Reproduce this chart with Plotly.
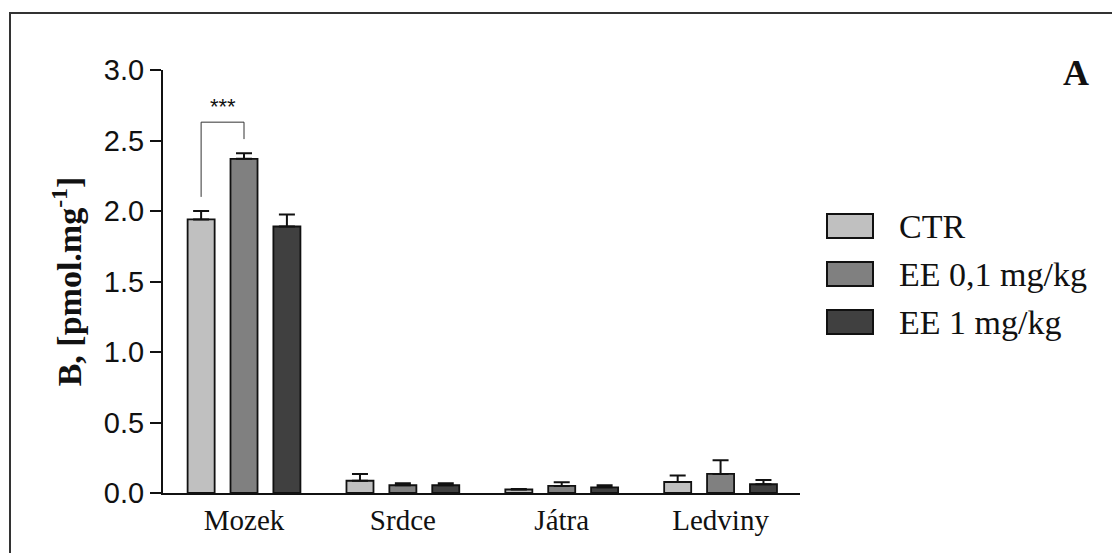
import plotly.graph_objects as go

# ---- data ----
categories = ["Mozek", "Srdce", "Játra", "Ledviny"]
series_names = ["CTR", "EE 0,1 mg/kg", "EE 1 mg/kg"]
ctr_vals = [1.94, 0.087, 0.025, 0.078]
ctr_err = [0.06, 0.048, 0.004, 0.047]
ee01_vals = [2.37, 0.055, 0.05, 0.135]
ee01_err = [0.04, 0.015, 0.026, 0.097]
ee1_vals = [1.89, 0.055, 0.04, 0.062]
ee1_err = [0.085, 0.015, 0.015, 0.03]
colors = ["#c0c0c0", "#808080", "#404040"]
y_ticks = [0.0, 0.5, 1.0, 1.5, 2.0, 2.5, 3.0]
sig_label = "***"

values = [ctr_vals, ee01_vals, ee1_vals]
errors = [ctr_err, ee01_err, ee1_err]

# ---- layout geometry (pixels) ----
W, H = 1112, 553
L, R, T, B = 163, 312, 70, 60
PW, PH = W - L - R, H - T - B

def px_x(px):
    return (px - L) / PW

def px_y(py):
    return (H - B - py) / PH

fig = go.Figure()
for name, vals, errs, col in zip(series_names, values, errors, colors):
    fig.add_trace(go.Bar(
        x=categories, y=vals, name=name,
        marker=dict(color=col, line=dict(color="#111111", width=1.8)),
        error_y=dict(type="data", array=errs, arrayminus=[0] * len(errs),
                     symmetric=False, color="#111111", thickness=2, width=8),
        showlegend=False,
    ))

BARGAP = 0.19
fig.update_layout(
    width=W, height=H,
    margin=dict(l=L, r=R, t=T, b=B, pad=0),
    paper_bgcolor="white", plot_bgcolor="white",
    barmode="group", bargap=BARGAP, bargroupgap=0.37,
    font=dict(family="Liberation Sans, Arial", color="#111111"),
)
fig.update_xaxes(
    range=[-0.51, 3.5], showline=True, linecolor="#111111", linewidth=2,
    ticks="", showgrid=False, zeroline=False,
    tickfont=dict(family="Liberation Serif, Times New Roman", size=29, color="#111111"),
)
fig.update_yaxes(
    range=[0, 3], tickvals=y_ticks, ticktext=[f"{v:.1f}" for v in y_ticks],
    showline=True, linecolor="#111111", linewidth=2,
    ticks="outside", ticklen=11, tickwidth=2, tickcolor="#111111",
    showgrid=False, zeroline=False,
    tickfont=dict(family="Liberation Sans, Arial", size=29, color="#111111"),
    title=dict(text="<b>B, [pmol.mg<sup>-1</sup>]</b>",
               font=dict(family="Liberation Serif, Times New Roman", size=34, color="#111111"),
               standoff=12),
)

# ---- significance bracket between CTR and EE 0,1 in first group ----
slot = (1 - BARGAP) / 3
x_left = 0 - slot
x_right = 0
gap = 0.1
y_left = ctr_vals[0] + ctr_err[0] + gap
y_right = ee01_vals[0] + ee01_err[0] + gap
y_top = max(y_left, y_right) + 0.12
fig.add_shape(type="path", xref="x", yref="y",
              path=f"M {x_left},{y_left} L {x_left},{y_top} L {x_right},{y_top} L {x_right},{y_right}",
              line=dict(color="#333333", width=1))
fig.add_annotation(x=(x_left + x_right) / 2, y=y_top, xref="x", yref="y",
                   text=sig_label, showarrow=False, yanchor="bottom", yshift=1,
                   font=dict(family="Liberation Sans, Arial", size=22, color="#111111"))

# ---- custom legend ----
row_centers = [226, 274, 322]
for name, col, cy in zip(series_names, colors, row_centers):
    fig.add_shape(type="rect", xref="paper", yref="paper",
                  x0=px_x(827), x1=px_x(873), y0=px_y(cy + 12), y1=px_y(cy - 12),
                  fillcolor=col, line=dict(color="#111111", width=2))
    fig.add_annotation(xref="paper", yref="paper", x=px_x(897), y=px_y(cy),
                       text=name, showarrow=False, xanchor="left", yanchor="middle",
                       font=dict(family="Liberation Serif, Times New Roman", size=34, color="#111111"))

# ---- panel letter ----
fig.add_annotation(xref="paper", yref="paper", x=px_x(1076), y=px_y(73),
                   text="<b>A</b>", showarrow=False, xanchor="center", yanchor="middle",
                   font=dict(family="Liberation Serif, Times New Roman", size=36, color="#111111"))

# ---- outer frame (only left and top visible) ----
fig.add_shape(type="path", xref="paper", yref="paper",
              path=f"M {px_x(10)},{px_y(560)} L {px_x(10)},{px_y(13)} L {px_x(1120)},{px_y(13)}",
              line=dict(color="#333333", width=2))

fig.write_html("out.html", config={"displayModeBar": False},
               post_script="document.body.style.margin='0';")
